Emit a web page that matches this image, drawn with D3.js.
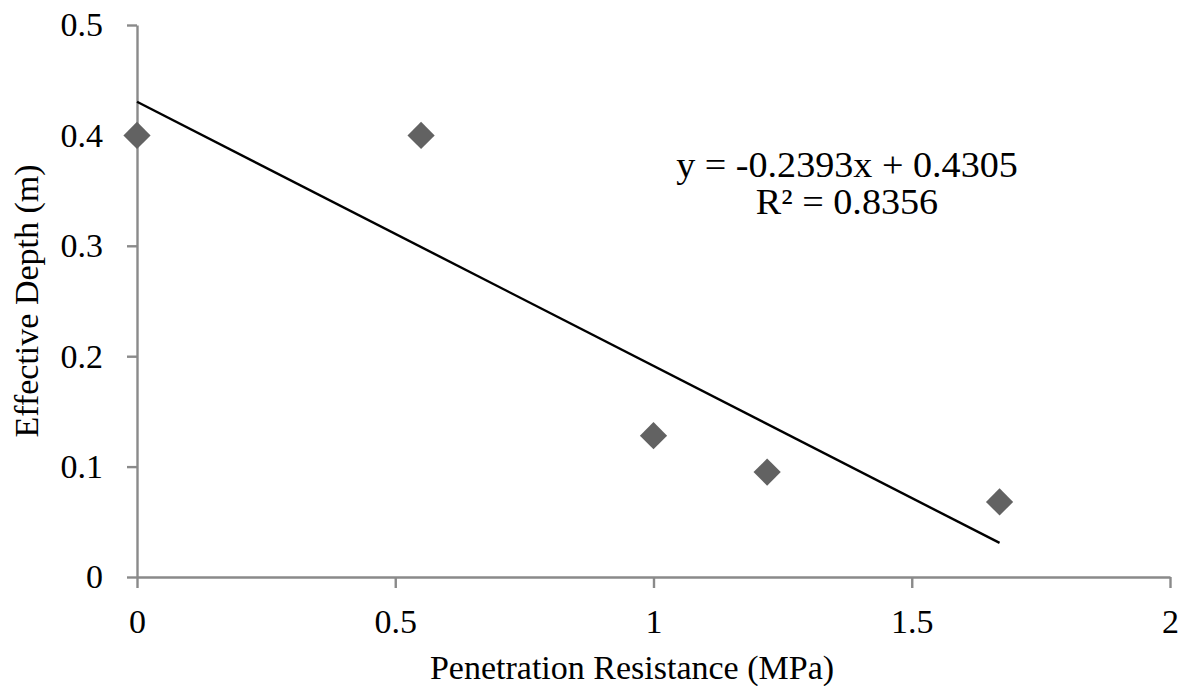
<!DOCTYPE html>
<html><head><meta charset="utf-8">
<script src="https://cdn.jsdelivr.net/npm/d3@7"></script>
<style>body{margin:0;background:#fff;}svg{display:block;}</style>
</head><body>
<svg id="c" width="1184" height="686"></svg>
<script>
const xValues = [0, 0.55, 1.0, 1.22, 1.67];
const yValues = [0.4, 0.4, 0.128, 0.095, 0.068];
const xTicks = [0, 0.5, 1, 1.5, 2];
const yTicks = [0, 0.1, 0.2, 0.3, 0.4, 0.5];
const slope = -0.2393, intercept = 0.4305;
const eqLines = ["y = -0.2393x + 0.4305", "R² = 0.8356"];
const xTitle = "Penetration Resistance (MPa)";
const yTitle = "Effective Depth (m)";

const svg = d3.select("#c");
const font = "'Liberation Serif','Times New Roman',serif";
const x = d3.scaleLinear().domain([0, 2]).range([137, 1170]);
const y = d3.scaleLinear().domain([0, 0.5]).range([577, 25]);
const axisColor = "#8a8a8a";

const gx = svg.append("g").attr("transform", `translate(0,${y(0)})`)
  .call(d3.axisBottom(x).tickValues(xTicks).tickFormat(d3.format("")).tickSize(11).tickSizeOuter(0));
const gy = svg.append("g").attr("transform", `translate(${x(0)},0)`)
  .call(d3.axisLeft(y).tickValues(yTicks).tickFormat(d3.format("")).tickSize(10).tickSizeOuter(0).tickPadding(24));
[gx, gy].forEach(g => {
  g.select(".domain").attr("stroke", axisColor).attr("stroke-width", 2.4);
  g.selectAll(".tick line").attr("stroke", axisColor).attr("stroke-width", 2.4);
  g.selectAll(".tick text").attr("fill", "#000").attr("font-family", font).attr("font-size", 34);
});
gx.selectAll(".tick text").attr("y", 56).attr("dy", 0);

// trendline
const xs = [0, d3.max(xValues)];
svg.append("line")
  .attr("x1", x(xs[0])).attr("y1", y(intercept + slope * xs[0]))
  .attr("x2", x(xs[1])).attr("y2", y(intercept + slope * xs[1]))
  .attr("stroke", "#000").attr("stroke-width", 2.4);

// markers
const diamond = d3.symbol().type(d3.symbolSquare).size(370);
svg.selectAll(".pt").data(xValues.map((v, i) => [v, yValues[i]])).enter()
  .append("path").attr("class", "pt")
  .attr("d", diamond())
  .attr("transform", d => `translate(${x(d[0])},${y(d[1])}) rotate(45)`)
  .attr("fill", "#626262");

// equation
const eq = svg.append("g").attr("transform", "translate(847,0) scale(1.09,1)");
eq.append("text").attr("x", 0).attr("y", 177).attr("font-family", font).attr("font-size", 35)
  .attr("text-anchor", "middle").attr("fill", "#000").text(eqLines[0]);
eq.append("text").attr("x", 0).attr("y", 214).attr("font-family", font).attr("font-size", 35)
  .attr("text-anchor", "middle").attr("fill", "#000").text(eqLines[1]);

// titles
svg.append("text").attr("x", 632).attr("y", 679).attr("text-anchor", "middle")
  .attr("font-family", font).attr("font-size", 34).attr("fill", "#000").text(xTitle);
svg.append("text").attr("transform", "translate(38,301) rotate(-90)").attr("text-anchor", "middle")
  .attr("font-family", font).attr("font-size", 34).attr("fill", "#000").text(yTitle);
</script>
</body></html>
